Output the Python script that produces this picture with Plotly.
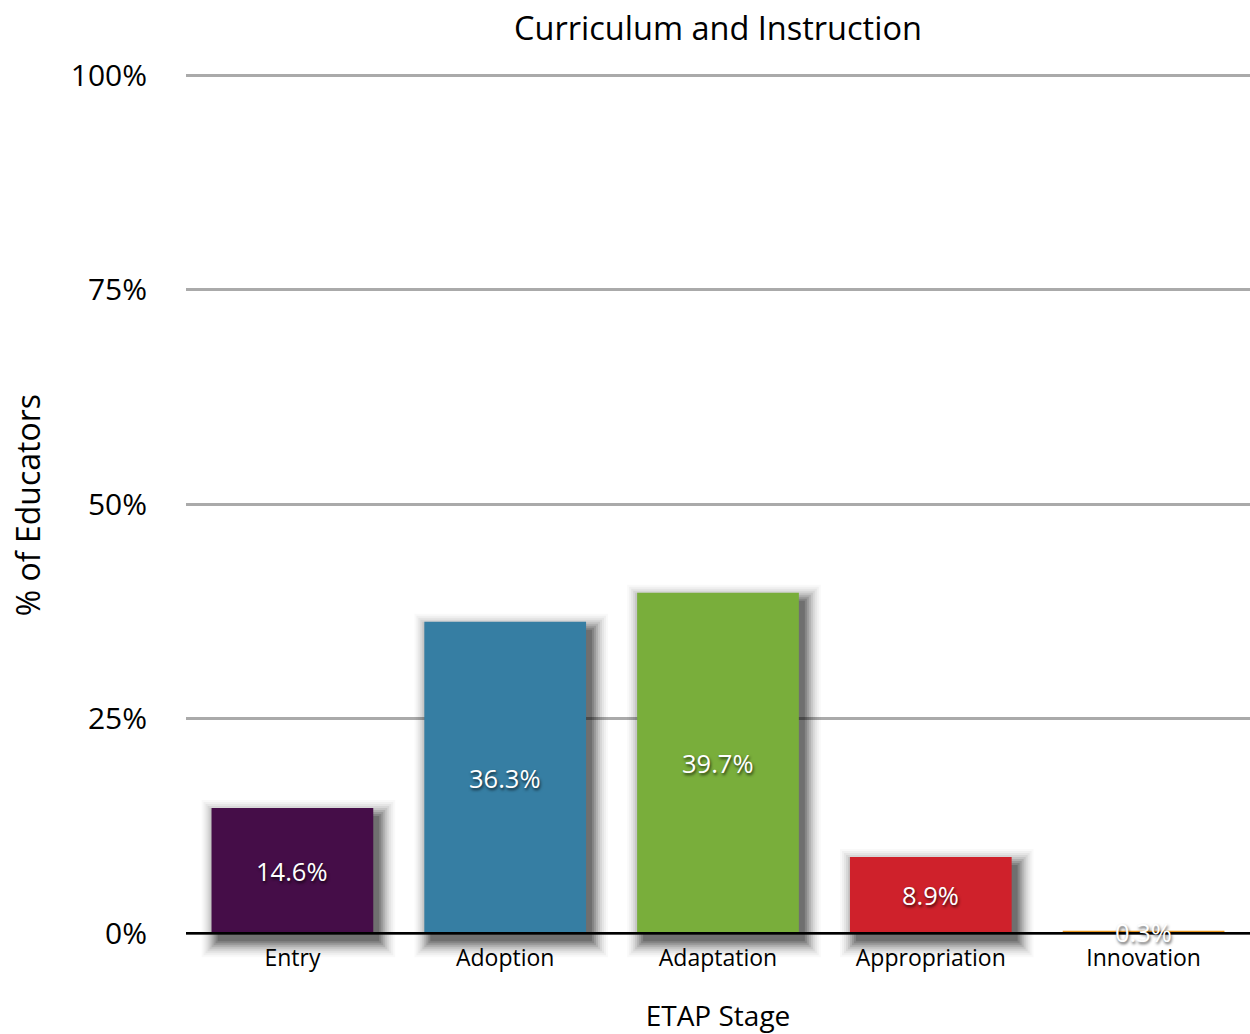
import plotly.graph_objects as go

categories = ["Entry", "Adoption", "Adaptation", "Appropriation", "Innovation"]
values = [14.6, 36.3, 39.7, 8.9, 0.3]
colors = ["#450d48", "#367ea3", "#79ae3b", "#cf212b", "#e8961e"]
tick_vals = [0, 25, 50, 75, 100]
tick_text = ["0%", "25%", "50%", "75%", "100%"]

FONT = "Open Sans"
BAR_W = 0.76
PX_PER_CAT = 212.8
PX_PER_UNIT = 8.58
FIG_W, FIG_H = 1250, 1034
PLOT_L, PLOT_TOP, PLOT_BOTTOM = 186, 71, 958.7
PLOT_W = FIG_W - PLOT_L
PLOT_H = PLOT_BOTTOM - PLOT_TOP

fig = go.Figure()

# soft drop shadows (layered translucent bars offset right/down)
dx, dy = 6, 8
for s, a in [(16, 0.025), (14, 0.035), (12, 0.045), (10, 0.06), (8, 0.08),
             (6, 0.1), (4, 0.12), (2, 0.14), (0, 0.16)]:
    base = -(dy + s) / PX_PER_UNIT
    heights = [max(v - dy / PX_PER_UNIT + s / PX_PER_UNIT - base, 0) if v > 1 else 0 for v in values]
    fig.add_trace(go.Bar(
        x=categories, y=heights, base=base,
        width=BAR_W + 2 * s / PX_PER_CAT,
        offset=-BAR_W / 2 + (dx - s) / PX_PER_CAT,
        marker=dict(color=f"rgba(0,0,0,{a})", line=dict(width=0)),
        hoverinfo="skip", showlegend=False,
    ))

fig.add_trace(go.Bar(
    x=categories, y=values, width=BAR_W,
    marker=dict(color=colors, line=dict(width=0)),
    showlegend=False,
))

for c, v in zip(categories, values):
    fig.add_annotation(
        x=c, y=v / 2, xref="x", yref="y", text=f"{v}%", showarrow=False,
        font=dict(family=FONT, size=25.5, color="white", shadow="1px 2px 3px rgba(0,0,0,0.7)"),
    )

# y-axis title
fig.add_annotation(
    text="% of Educators", textangle=-90, showarrow=False,
    xref="paper", yref="paper", x=(27 - PLOT_L) / PLOT_W, y=(PLOT_BOTTOM - 505) / PLOT_H,
    xanchor="center", yanchor="middle",
    font=dict(family=FONT, size=32, color="black"),
)

fig.add_shape(type="line", xref="paper", yref="y", x0=0, x1=1, y0=0, y1=0,
              line=dict(color="black", width=2.5), layer="above")

fig.update_layout(
    width=FIG_W, height=FIG_H,
    margin=dict(l=PLOT_L, r=0, t=PLOT_TOP, b=FIG_H - PLOT_BOTTOM),
    plot_bgcolor="white", paper_bgcolor="white",
    bargap=0.24, barmode="overlay",
    title=dict(text="Curriculum and Instruction", x=718 / FIG_W, xanchor="center",
               y=1 - 29 / FIG_H, yanchor="middle",
               font=dict(family=FONT, size=32.5, color="black")),
    xaxis=dict(
        type="category", categoryorder="array", categoryarray=categories,
        anchor="free", position=(PLOT_BOTTOM - 933) / PLOT_H, automargin=False,
        showgrid=False, zeroline=False, showline=False, ticks="",
        ticklabelstandoff=9,
        tickfont=dict(family=FONT, size=23, color="black"),
        title=dict(text="ETAP Stage", font=dict(family=FONT, size=28, color="black"), standoff=36),
    ),
    yaxis=dict(
        range=[-3, 100.5], tickvals=tick_vals, ticktext=tick_text, automargin=False,
        showgrid=True, gridcolor="#aaaaaa", gridwidth=2.5,
        zeroline=False, showline=False, ticks="",
        ticklabelstandoff=38,
        tickfont=dict(family=FONT, size=30, color="black"),
    ),
)

fig.write_html(
    "out.html",
    config={"displayModeBar": False},
    post_script="document.body.style.margin='0';document.body.style.overflow='hidden';",
)
